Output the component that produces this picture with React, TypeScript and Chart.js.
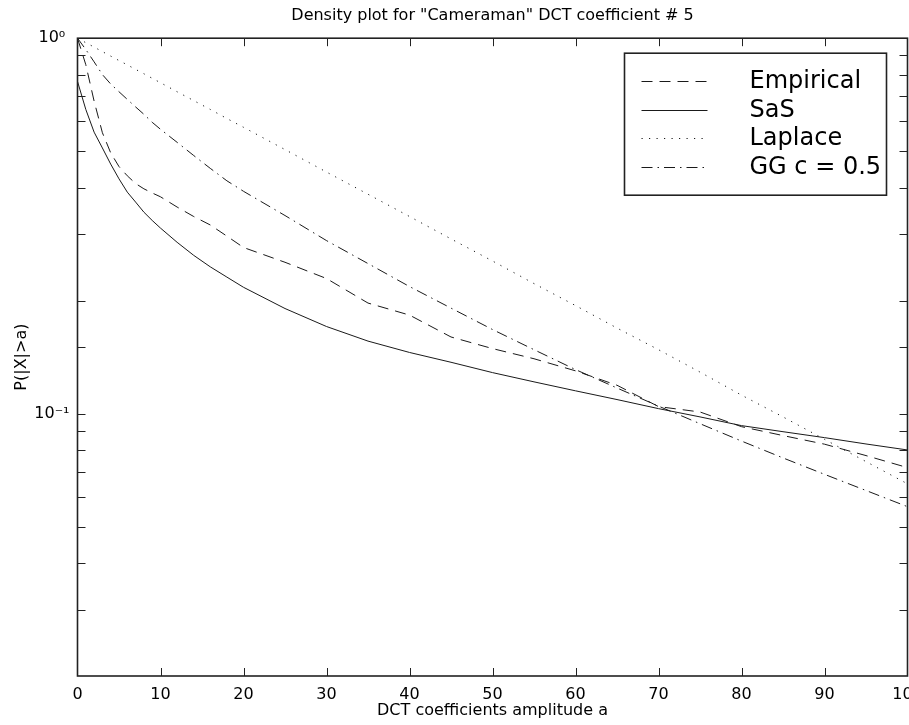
import React, { useEffect, useRef } from 'react';
import { Chart, registerables } from 'chart.js';

Chart.register(...registerables);

const FONT = 'DejaVu Sans';

const chartTitle = 'Density plot for "Cameraman" DCT coefficient # 5';
const xTitle = 'DCT coefficients amplitude a';
const yTitle = 'P(|X|>a)';

const amplitudes = [0, 1, 2, 3, 4, 5, 6, 7, 8, 9, 10, 12, 14, 16, 18, 20, 25, 30, 35, 40, 45, 50, 55, 60, 65, 70, 75, 80, 85, 90, 95, 100];

const empirical = [1, 0.85, 0.68, 0.56, 0.495, 0.455, 0.43, 0.41, 0.397, 0.387, 0.378, 0.355, 0.335, 0.318, 0.297, 0.277, 0.253, 0.229, 0.197, 0.183, 0.16, 0.149, 0.14, 0.13, 0.119, 0.1044, 0.101, 0.0923, 0.0874, 0.0829, 0.0773, 0.0718];

const sas = [0.767, 0.646, 0.562, 0.51, 0.462, 0.422, 0.389, 0.366, 0.344, 0.327, 0.312, 0.286, 0.264, 0.246, 0.231, 0.217, 0.1905, 0.1706, 0.156, 0.1455, 0.137, 0.1286, 0.1215, 0.115, 0.109, 0.1031, 0.098, 0.0929, 0.0895, 0.0863, 0.083, 0.08];

const laplace = [1, 0.973, 0.947, 0.921, 0.896, 0.872, 0.849, 0.826, 0.804, 0.782, 0.761, 0.72, 0.682, 0.646, 0.611, 0.579, 0.505, 0.44, 0.384, 0.335, 0.292, 0.255, 0.222, 0.194, 0.169, 0.148, 0.129, 0.112, 0.098, 0.0854, 0.0745, 0.065];

const ggHalf = [1, 0.933, 0.865, 0.8, 0.755, 0.72, 0.687, 0.656, 0.627, 0.597, 0.572, 0.528, 0.487, 0.45, 0.417, 0.391, 0.337, 0.289, 0.251, 0.218, 0.191, 0.1675, 0.148, 0.131, 0.117, 0.1047, 0.094, 0.0845, 0.0762, 0.0689, 0.0624, 0.0565];

const seriesLabels = ['Empirical', 'SaS', 'Laplace', 'GG c = 0.5'];

const xMin = 0;
const xMax = 100;
const xStep = 10;
const yMin = 0.02;
const yMax = 1;

const frameAndTicks = {
  id: 'frameAndTicks',
  afterDraw(chart: any) {
    const { ctx, chartArea } = chart;
    const { left, right, top, bottom } = chartArea;
    const xs = chart.scales.x;
    const ys = chart.scales.y;
    const tl = 8;
    ctx.save();
    ctx.strokeStyle = '#222';
    ctx.lineWidth = 1;
    ctx.beginPath();
    xs.ticks.forEach((t: any) => {
      const px = Math.round(xs.getPixelForValue(t.value)) + 0.5;
      if (px <= left + 1 || px >= right - 1) return;
      ctx.moveTo(px, bottom);
      ctx.lineTo(px, bottom - tl);
      ctx.moveTo(px, top);
      ctx.lineTo(px, top + tl);
    });
    ys.ticks.forEach((t: any) => {
      const py = Math.round(ys.getPixelForValue(t.value)) + 0.5;
      if (py <= top + 1 || py >= bottom - 1) return;
      ctx.moveTo(left, py);
      ctx.lineTo(left + tl, py);
      ctx.moveTo(right, py);
      ctx.lineTo(right - tl, py);
    });
    ctx.stroke();
    ctx.lineWidth = 1.6;
    ctx.strokeStyle = '#222';
    ctx.strokeRect(left, top, right - left, bottom - top);
    ctx.restore();
  },
};

const boxLegend = {
  id: 'boxLegend',
  afterDraw(chart: any) {
    const { ctx, chartArea } = chart;
    const bw = 262;
    const bh = 142;
    const bx = chartArea.right - 21 - bw;
    const by = chartArea.top + 15;
    ctx.save();
    ctx.fillStyle = '#fff';
    ctx.fillRect(bx, by, bw, bh);
    ctx.lineWidth = 1.6;
    ctx.strokeStyle = '#222';
    ctx.strokeRect(bx, by, bw, bh);
    chart.data.datasets.forEach((ds: any, i: number) => {
      const cy = by + 28 + i * 28.5;
      ctx.save();
      ctx.strokeStyle = ds.borderColor;
      ctx.lineWidth = ds.borderWidth;
      ctx.setLineDash(ds.borderDash || []);
      ctx.beginPath();
      ctx.moveTo(bx + 17, Math.round(cy) + 0.5);
      ctx.lineTo(bx + 83, Math.round(cy) + 0.5);
      ctx.stroke();
      ctx.restore();
      ctx.fillStyle = '#000';
      ctx.font = `24px "${FONT}"`;
      ctx.textAlign = 'left';
      ctx.textBaseline = 'middle';
      ctx.fillText(ds.label, bx + 125, cy + 1);
    });
    ctx.restore();
  },
};

function makeSeries(values: number[]) {
  return amplitudes.map((a, i) => ({ x: a, y: values[i] }));
}

export default function App() {
  const ref = useRef<HTMLCanvasElement>(null);

  useEffect(() => {
    if (!ref.current) return;
    Chart.defaults.font.family = FONT;
    const lineColor = '#1a1a1a';
    const chart = new Chart(ref.current, {
      type: 'line',
      data: {
        datasets: [
          { label: seriesLabels[0], data: makeSeries(empirical), borderColor: lineColor, borderWidth: 1, borderDash: [11, 7], pointRadius: 0, tension: 0, fill: false },
          { label: seriesLabels[1], data: makeSeries(sas), borderColor: lineColor, borderWidth: 1, borderDash: [], pointRadius: 0, tension: 0, fill: false },
          { label: seriesLabels[2], data: makeSeries(laplace), borderColor: lineColor, borderWidth: 1, borderDash: [1.2, 6.3], pointRadius: 0, tension: 0, fill: false },
          { label: seriesLabels[3], data: makeSeries(ggHalf), borderColor: lineColor, borderWidth: 1, borderDash: [11, 5, 1.5, 5], pointRadius: 0, tension: 0, fill: false },
        ],
      },
      options: {
        animation: false,
        responsive: false,
        devicePixelRatio: 1,
        layout: { padding: { left: 0, top: 0, right: 1.5, bottom: 0 }, autoPadding: false },
        plugins: {
          legend: { display: false },
          tooltip: { enabled: false },
          title: {
            display: true,
            text: chartTitle,
            fullSize: false,
            color: '#000',
            font: { family: FONT, size: 16, weight: 'normal' },
            padding: { top: 6, bottom: 13 },
          },
        },
        scales: {
          x: {
            type: 'linear',
            position: 'bottom',
            min: xMin,
            max: xMax,
            grid: { display: false },
            border: { display: false },
            ticks: {
              stepSize: xStep,
              autoSkip: false,
              maxRotation: 0,
              color: '#000',
              font: { family: FONT, size: 16 },
              padding: 1,
            },
            title: {
              display: true,
              text: xTitle,
              color: '#000',
              font: { family: FONT, size: 16 },
              padding: { top: 0, bottom: 5 },
            },
            afterFit: (s: any) => { s.height = 49; s.paddingLeft = 0; s.paddingRight = 0; },
          },
          y: {
            type: 'logarithmic',
            position: 'left',
            min: yMin,
            max: yMax,
            grid: { display: false },
            border: { display: false },
            ticks: {
              autoSkip: false,
              color: '#000',
              font: { family: FONT, size: 16 },
              crossAlign: 'center',
              padding: 0,
              callback: (v: any) => {
                const n = Number(v);
                if (Math.abs(n - 1) < 1e-9) return '10⁰';
                if (Math.abs(n - 0.1) < 1e-9) return '10⁻¹';
                return '';
              },
            },
            title: {
              display: true,
              text: yTitle,
              color: '#000',
              font: { family: FONT, size: 16 },
              padding: { top: 12, bottom: 0 },
            },
            afterFit: (s: any) => { s.width = 77.5; s.paddingTop = 0; s.paddingBottom = 0; },
          },
        },
      } as any,
      plugins: [frameAndTicks, boxLegend],
    });
    return () => chart.destroy();
  }, []);

  return (
    <div style={{ position: 'fixed', left: 0, top: 0, width: 909, height: 725, background: '#fff' }}>
      <canvas ref={ref} width={909} height={725} style={{ display: 'block', width: 909, height: 725 }} />
    </div>
  );
}
